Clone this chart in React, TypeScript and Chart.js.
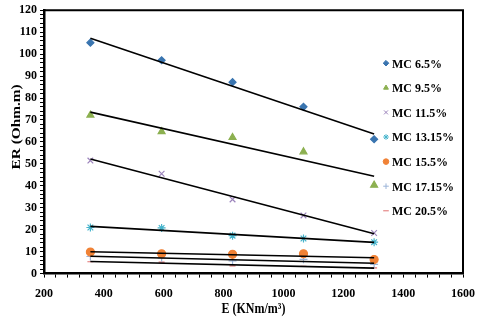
import { useEffect, useRef } from 'react';
import { Chart, registerables } from 'chart.js';
import { drawPoint } from 'chart.js/helpers';

Chart.register(...registerables);

const E = [355, 593, 830, 1067, 1303];
const seriesNames = ['MC 6.5%', 'MC 9.5%', 'MC 11.5%', 'MC 13.15%', 'MC 15.5%', 'MC 17.15%', 'MC 20.5%'];
const mc65 = [105.2, 97.2, 87.2, 76.0, 61.2];
const mc95 = [72.2, 64.7, 62.0, 55.5, 40.3];
const mc115 = [51.5, 45.5, 33.8, 26.5, 18.5];
const mc1315 = [21.0, 20.8, 17.3, 16.0, 14.3];
const mc155 = [9.8, 9.0, 8.8, 9.0, 6.4];
const mc1715 = [7.8, 7.2, 5.8, 6.5, 4.2];
const mc205 = [5.4, 5.2, 3.5, 3.3, 2.6];
const seriesValues = [mc65, mc95, mc115, mc1315, mc155, mc1715, mc205];
const colors = ['#3A75B0', '#8CB050', '#9C84BC', '#46B4CC', '#F08236', '#9CB4D8', '#E07070'];
const pointStyles = ['rectRot', 'triangle', 'crossRot', 'star', 'circle', 'cross', 'line'];
const pointSizes = [3.5, 4, 4, 4, 4, 4, 3];
const xTickLabels = [200, 400, 600, 800, 1000, 1200, 1400, 1600];
const yTickLabels = [0, 10, 20, 30, 40, 50, 60, 70, 80, 90, 100, 110, 120];
const xTitle = 'E (KNm/m³)';
const yTitle = 'ER (Ohm.m)';

const FONT = "'Liberation Serif', 'Times New Roman', serif";

function fit(xs: number[], ys: number[]) {
  const n = xs.length;
  const mx = xs.reduce((a, b) => a + b, 0) / n;
  const my = ys.reduce((a, b) => a + b, 0) / n;
  let sxy = 0, sxx = 0;
  for (let i = 0; i < n; i++) {
    sxy += (xs[i] - mx) * (ys[i] - my);
    sxx += (xs[i] - mx) * (xs[i] - mx);
  }
  const b = sxy / sxx;
  const a = my - b * mx;
  const x0 = Math.min(...xs), x1 = Math.max(...xs);
  return [{ x: x0, y: a + b * x0 }, { x: x1, y: a + b * x1 }];
}

const framePlugin = {
  id: 'frame',
  afterDraw(chart: any) {
    const { ctx, chartArea } = chart;
    ctx.save();
    ctx.strokeStyle = '#000';
    ctx.lineWidth = 2;
    ctx.beginPath();
    ctx.moveTo(chartArea.left, chartArea.top);
    ctx.lineTo(chartArea.right, chartArea.top);
    ctx.lineTo(chartArea.right, chartArea.bottom);
    ctx.stroke();
    ctx.fillStyle = '#000';
    ctx.textAlign = 'center';
    ctx.textBaseline = 'middle';
    // x title: slightly tall glyphs
    ctx.save();
    ctx.font = `bold 12px ${FONT}`;
    ctx.translate((chartArea.left + chartArea.right) / 2, chartArea.bottom + 36);
    ctx.scale(1, 1.15);
    ctx.fillText(xTitle, 0, 0);
    ctx.restore();
    // y title
    ctx.save();
    ctx.font = `bold 13px ${FONT}`;
    ctx.translate(17, (chartArea.top + chartArea.bottom) / 2 - 15);
    ctx.rotate(-Math.PI / 2);
    ctx.scale(1.18, 1);
    ctx.fillText(yTitle, 0, 0);
    ctx.restore();
    ctx.restore();
  },
};

const legendPlugin = {
  id: 'customLegend',
  afterDraw(chart: any) {
    const { ctx, chartArea } = chart;
    ctx.save();
    ctx.font = `bold 12px ${FONT}`;
    ctx.textBaseline = 'middle';
    ctx.textAlign = 'left';
    const x = chartArea.right - 77;
    seriesNames.forEach((name, i) => {
      const y = chartArea.top + 53 + i * 24.6;
      ctx.fillStyle = colors[i];
      ctx.strokeStyle = colors[i];
      ctx.lineWidth = 1;
      drawPoint(ctx, { pointStyle: pointStyles[i], radius: 2.8, rotation: 0, borderWidth: 1 } as any, x, y);
      ctx.fillStyle = '#000';
      ctx.save();
      ctx.translate(x + 6, y + 1);
      ctx.scale(1, 1.1);
      ctx.fillText(name, 0, 0);
      ctx.restore();
    });
    ctx.restore();
  },
};

export default function App() {
  const ref = useRef<HTMLCanvasElement>(null);
  useEffect(() => {
    if (!ref.current) return;
    const datasets: any[] = [];
    seriesValues.forEach((vals, i) => {
      datasets.push({
        type: 'scatter',
        label: seriesNames[i],
        data: E.map((x, j) => ({ x, y: vals[j] })),
        pointStyle: pointStyles[i],
        pointRadius: pointSizes[i],
        backgroundColor: colors[i],
        borderColor: colors[i],
        borderWidth: 1.2,
        order: 2,
      });
    });
    seriesValues.forEach((vals, i) => {
      datasets.push({
        type: 'line',
        label: seriesNames[i] + ' trend',
        data: fit(E, vals),
        borderColor: '#000',
        borderWidth: 1.6,
        pointRadius: 0,
        fill: false,
        order: 1,
      });
    });
    const chart = new Chart(ref.current, {
      type: 'scatter',
      data: { datasets },
      options: {
        animation: false,
        responsive: true,
        maintainAspectRatio: false,
        layout: { padding: { left: 16, right: 18, top: 1, bottom: 8 } },
        plugins: { legend: { display: false }, tooltip: { enabled: false } },
        scales: {
          x: {
            type: 'linear',
            min: 200,
            max: 1600,
            afterFit: (s: any) => {
              s.paddingRight = 0;
              s.paddingLeft = 0;
            },
            ticks: {
              stepSize: 40,
              autoSkip: false,
              maxRotation: 0,
              padding: 9.5,
              color: '#000',
              font: { family: FONT, size: 12, weight: 'bold' },
              callback: (v: any) => (xTickLabels.includes(Number(v)) ? String(v) : ''),
            },
            grid: { drawOnChartArea: false, drawTicks: true, tickLength: 4, color: '#000' },
            border: { color: '#000', width: 2.5 },
          },
          y: {
            type: 'linear',
            min: 0,
            max: 120,
            ticks: {
              stepSize: 2,
              autoSkip: false,
              padding: 3,
              color: '#000',
              font: { family: FONT, size: 12, weight: 'bold' },
              callback: (v: any) => (yTickLabels.includes(Number(v)) ? String(v) : ''),
            },
            grid: { drawOnChartArea: false, drawTicks: true, tickLength: 4, color: '#000' },
            border: { color: '#000', width: 2.5 },
          },
        },
      },
      plugins: [framePlugin, legendPlugin],
    } as any);
    return () => chart.destroy();
  }, []);
  return (
    <div style={{ position: 'absolute', left: 0, top: 0, width: 481, height: 319, background: '#fff' }}>
      <canvas ref={ref} />
    </div>
  );
}
